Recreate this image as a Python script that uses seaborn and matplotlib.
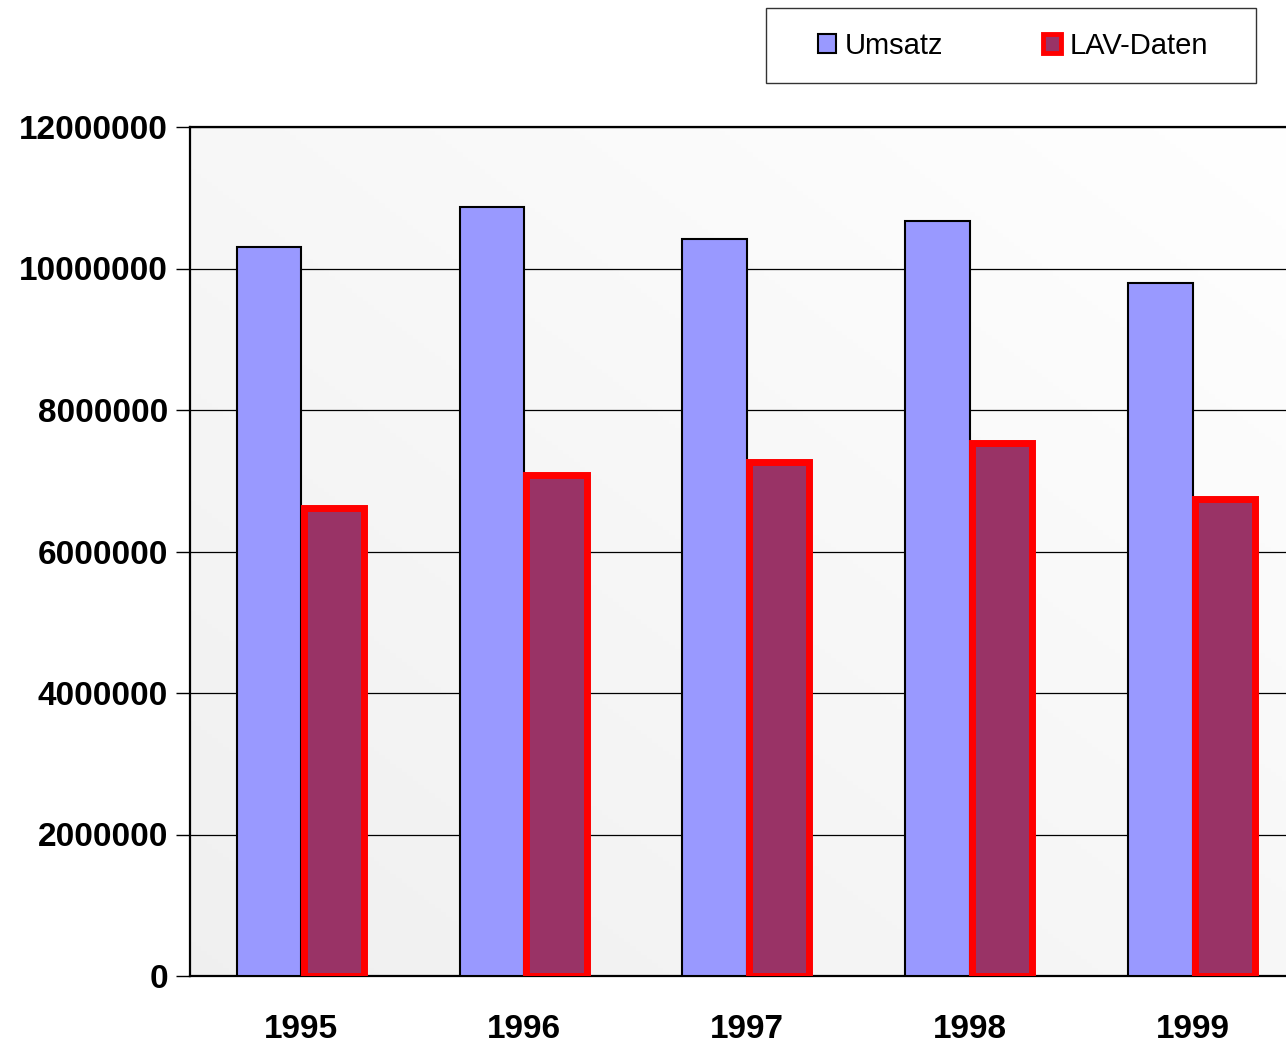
import numpy as np
import pandas as pd
import seaborn as sns
import matplotlib.pyplot as plt
from matplotlib.patches import Patch, Rectangle

# data
years = ["1995", "1996", "1997", "1998", "1999"]
umsatz = [10300000, 10870000, 10420000, 10670000, 9800000]
lav_daten = [6610000, 7080000, 7260000, 7530000, 6740000]
series = ["Umsatz", "LAV-Daten"]
y_ticks = [0, 2000000, 4000000, 6000000, 8000000, 10000000, 12000000]

df = pd.DataFrame({
    "Jahr": years * 2,
    "Wert": umsatz + lav_daten,
    "Reihe": [series[0]] * len(years) + [series[1]] * len(years),
})

sns.set_style("white")
plt.rcParams["font.family"] = ["Liberation Sans", "DejaVu Sans"]
plt.rcParams["text.color"] = "black"
plt.rcParams["xtick.color"] = "black"
plt.rcParams["ytick.color"] = "black"

fig = plt.figure(figsize=(12.86, 10.43), dpi=100)
ax = fig.add_axes([190 / 1286, 67 / 1043, 1114 / 1286, 849 / 1043])

# gradient background: light grey bottom-left to white top-right
gx, gy = np.meshgrid(np.linspace(0, 1, 200), np.linspace(0, 1, 200))
t = (gx + (1 - gy)) / 2
shade = 0.94 + 0.06 * t
img = np.dstack([shade, shade, shade])
ax.imshow(img, extent=[0, 1, 0, 1], transform=ax.transAxes,
          aspect="auto", zorder=0, origin="upper")

sns.barplot(data=df, x="Jahr", y="Wert", hue="Reihe", order=years,
            hue_order=series, palette=["#9999ff", "#993366"], width=0.58,
            dodge=True, saturation=1, legend=False, ax=ax, zorder=3)

n = len(years)
for i, p in enumerate(ax.patches[:2 * n]):
    if i < n:
        p.set_edgecolor("black")
        p.set_linewidth(1.5)
    else:
        c = p.get_x() + p.get_width() / 2
        p.set_width(0.27)
        p.set_x(c - 0.135)
        p.set_edgecolor("#ff0000")
        p.set_linewidth(5)
        p.set_zorder(4)

ax.set_xlim(-0.5, n - 0.5)
ax.set_ylim(0, 12000000)
ax.set_yticks(y_ticks)
ax.set_yticklabels([str(v) for v in y_ticks], fontsize=24, fontweight="bold")
ax.set_xticks(range(n))
ax.set_xticklabels(years, fontsize=24, fontweight="bold")
ax.set_xlabel("")
ax.set_ylabel("")
ax.yaxis.grid(True, color="black", linewidth=0.9, zorder=1)
ax.set_axisbelow(True)

# x ticks sit on category boundaries
ax.set_xticks(np.arange(-0.5, n, 1), minor=True)
ax.tick_params(axis="x", which="major", length=0, pad=27)
ax.tick_params(axis="x", which="minor", length=8, width=1, color="black", direction="out")
ax.tick_params(axis="y", length=10, width=1, color="black", direction="out", pad=6, left=True)

for s in ["left", "top", "bottom"]:
    ax.spines[s].set_color("black")
    ax.spines[s].set_linewidth(1.6)
ax.spines["right"].set_visible(False)

# legend box drawn separately so the padding can match
fig.patches.append(Rectangle((766 / 1286, 1 - 83 / 1043), 490 / 1286, 75 / 1043,
                             transform=fig.transFigure, facecolor="white",
                             edgecolor="#333333", linewidth=1))
handles = [
    Patch(facecolor="#9999ff", edgecolor="black", linewidth=1.5, label=series[0]),
    Patch(facecolor="#993366", edgecolor="#ff0000", linewidth=3.5, label=series[1]),
]
leg = fig.legend(handles=handles, loc="center left",
                 bbox_to_anchor=(818 / 1286, 1 - 46 / 1043),
                 ncol=2, fontsize=21, frameon=False,
                 handlelength=0.62, handleheight=0.62, handletextpad=0.3,
                 columnspacing=3.4, borderpad=0, borderaxespad=0)
for txt in leg.get_texts():
    txt.set_color("black")

fig.savefig("out.png", dpi=100)
